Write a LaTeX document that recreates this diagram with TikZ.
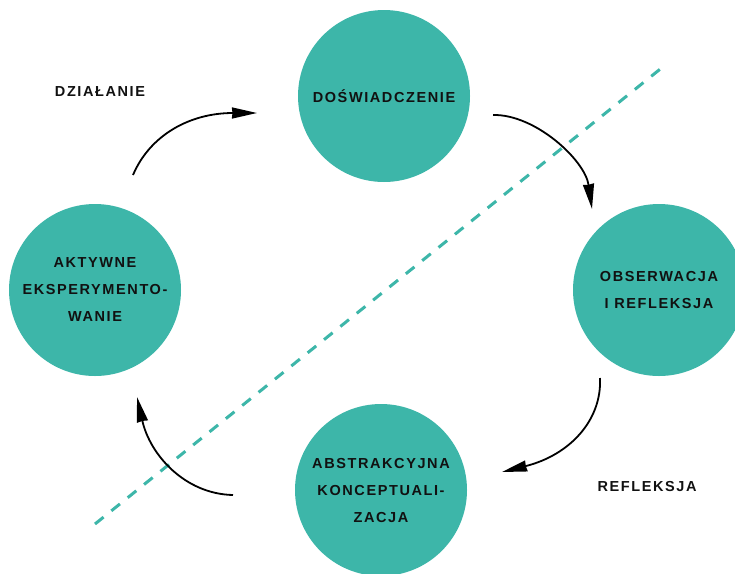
\documentclass[tikz,border=0pt]{standalone}
\usepackage{fontspec}
\newfontfamily\lblfont[UprightFont={* Bold}, BoldFont={* Bold}, LetterSpace=11]{Liberation Sans}
\usetikzlibrary{arrows.meta}
\definecolor{teal1}{HTML}{3DB6A9}
\definecolor{ink}{HTML}{111111}
\tikzset{
  stage/.style={circle, fill=teal1, minimum size=172pt, inner sep=0pt, align=center,
    text=ink, font=\lblfont\fontsize{14.5}{27}\selectfont},
  lbl/.style={text=ink, font=\lblfont\fontsize{14.5}{27}\selectfont},
  flow/.style={line width=1.8pt, draw=black, -{Stealth[length=25pt,width=11pt,inset=0.5pt]}},
  divider/.style={draw=teal1, line width=3pt, dash pattern=on 11pt off 10pt}
}
\begin{document}
\begin{tikzpicture}[x=1pt,y=-1pt]
\useasboundingbox (0,0) rectangle (735,573);
\draw[divider] (95,524) coordinate (d1) -- (664,66) coordinate (d2);
\node[stage] (dos) at (384,96) {DOŚWIADCZENIE};
\node[stage] (obs) at (659,290) {OBSERWACJA\\I REFLEKSJA};
\node[stage] (abs) at (381,490) {ABSTRAKCYJNA\\KONCEPTUALI-\\ZACJA};
\node[stage] (akt) at (95,290) {AKTYWNE\\EKSPERYMENTO-\\WANIE};
\node[lbl] (dzial) at (100,92) {DZIAŁANIE};
\node[lbl] (refl) at (647,486) {REFLEKSJA};
\coordinate (a1s) at (133,175); \coordinate (a1e) at (257,113);
\coordinate (a2s) at (493,115); \coordinate (a2e) at (592,209);
\coordinate (a3s) at (600,378); \coordinate (a3e) at (502,472);
\coordinate (a4s) at (233,495); \coordinate (a4e) at (137,397);
\draw[flow] (a1s) .. controls (150,135) and (190,113) .. (a1e);
\draw[flow] (a2s) .. controls (535,114) and (585,160) .. (a2e);
\draw[flow] (a3s) .. controls (602,420) and (570,455) .. (a3e);
\draw[flow] (a4s) .. controls (185,494) and (150,455) .. (a4e);
\end{tikzpicture}
\end{document}
